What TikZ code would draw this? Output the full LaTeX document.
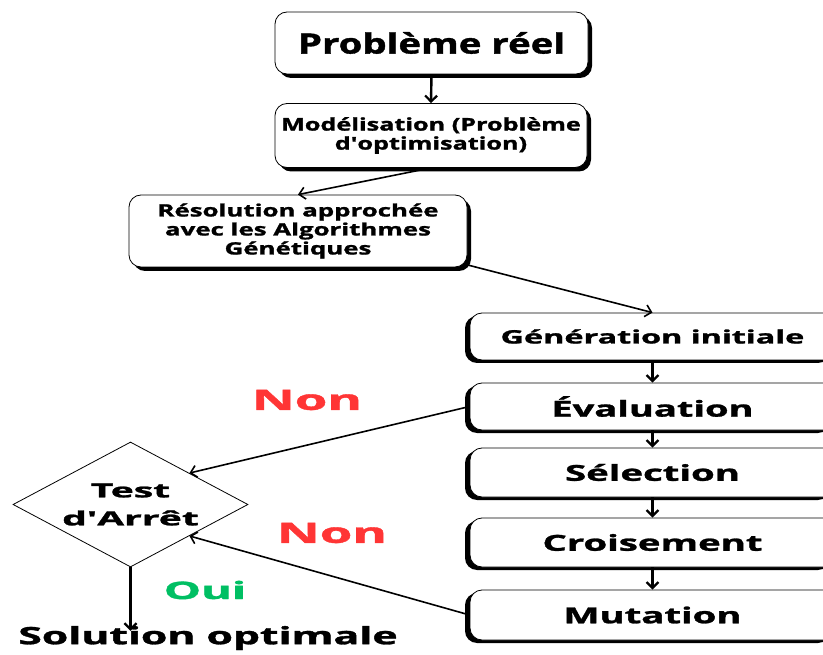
\documentclass[tikz,border=0pt]{standalone}
\usepackage{graphicx}
\usepackage{fontspec}
\setmainfont{Open Sans}[BoldFeatures={FakeBold=1.2}]
\usetikzlibrary{arrows.meta,shapes.geometric,shadows}
\definecolor{nonred}{HTML}{FF3535}
\definecolor{ouigreen}{HTML}{00BF63}
% horizontal widening of a line of text
\newcommand{\wide}[2]{\scalebox{#1}[1]{#2}}
\newcommand{\fs}[2]{\bfseries\fontsize{#1}{#2}\selectfont}
\tikzset{
  flowbox/.style={draw=black, line width=0.8pt, fill=white, rounded corners=12pt,
    align=center, inner sep=0pt},
  shadowright/.style={drop shadow={shadow xshift=4pt, shadow yshift=-4pt, fill=black, opacity=1}},
  shadowleft/.style={drop shadow={shadow xshift=-5pt, shadow yshift=-3pt, fill=black, opacity=1}},
  flowarrow/.style={line width=2.4pt, -{Straight Barb[length=6pt,width=12pt,line width=2.2pt]}},
  slantarrow/.style={line width=1.6pt, -{Straight Barb[length=6pt,width=12pt,line width=1.6pt]}},
  answer/.style={inner sep=0pt},
}
\begin{document}
\begin{tikzpicture}[x=1pt,y=-1pt]
\useasboundingbox (0,0) rectangle (823,655);
\begin{scope}
\clip (0,0) rectangle (823,655);
% upper chain: problem, model, approach
\node[flowbox, shadowright, minimum width=313pt, minimum height=62pt, font=\fs{28}{30}]
  (reel) at (431.5,43) {\wide{1.37}{Problème réel}};
\node[flowbox, shadowright, minimum width=312pt, minimum height=64pt, font=\fs{17.5}{19}]
  (model) at (431,135.5) {\wide{1.44}{Modélisation (Problème}\\\wide{1.44}{d\textquotesingle optimisation)}};
\node[flowbox, shadowright, minimum width=338pt, minimum height=72pt, font=\fs{17}{19}]
  (ga) at (298,231) {\wide{1.52}{Résolution approchée}\\\wide{1.52}{avec les Algorithmes}\\\wide{1.52}{Génétiques}};
% genetic algorithm steps
\node[flowbox, shadowleft, minimum width=365pt, minimum height=47pt, font=\fs{18.5}{20}]
  (gen) at (652.5,336.5) {\wide{1.75}{Génération initiale}};
\node[flowbox, shadowleft, minimum width=365pt, minimum height=47pt, font=\fs{22}{24}]
  (eval) at (652.5,406.5) {\wide{1.73}{Évaluation}};
\node[flowbox, shadowleft, minimum width=365pt, minimum height=49pt, font=\fs{22}{24}]
  (sel) at (652.5,472.5) {\wide{1.74}{Sélection}};
\node[flowbox, shadowleft, minimum width=365pt, minimum height=49pt, font=\fs{22}{24}]
  (cross) at (652.5,542.5) {\wide{1.74}{Croisement}};
\node[flowbox, shadowleft, minimum width=365pt, minimum height=50pt, font=\fs{22}{24}]
  (mut) at (652.5,615) {\wide{1.74}{Mutation}};
\end{scope}
% stopping test: diamond outline and its label
\node[draw=black, line width=0.8pt, diamond, minimum width=235pt, minimum height=125pt,
  inner sep=0pt] (test) at (130.5,504.5) {};
\node[align=center, inner sep=0pt, font=\fs{19.5}{28}] (testlabel) at (test.center)
  {\wide{2.0}{Test}\\\wide{2.0}{d\textquotesingle Arrêt}};
\node[font=\fs{24}{26}, inner sep=0pt] (sol) at (208,638) {\wide{1.78}{Solution optimale}};
% answers
\node[answer, text=nonred, font=\fs{28}{30}] (non1) at (307,400) {\wide{1.88}{Non}};
\node[answer, text=nonred, font=\fs{28}{30}] (non2) at (332,533) {\wide{1.88}{Non}};
\node[answer, text=ouigreen, font=\fs{24}{26}] (oui) at (205,590) {\wide{1.95}{Oui}};
% connectors
\draw[flowarrow] (reel.south) -- (model.north);
\draw[slantarrow] (model.south) -- (ga.north);
\draw[slantarrow] ([xshift=-2pt,yshift=3pt]ga.south east) -- (gen.north);
\draw[flowarrow] (gen.south) -- (eval.north);
\draw[flowarrow] (eval.south) -- (sel.north);
\draw[flowarrow] (sel.south) -- (cross.north);
\draw[flowarrow] (cross.south) -- (mut.north);
\draw[slantarrow] (eval.west) -- (test.north east);
\draw[slantarrow] (mut.west) -- (test.south east);
\draw[flowarrow] (test.south) -- ([yshift=-5pt]test.south |- sol.north);
\end{tikzpicture}
\end{document}
